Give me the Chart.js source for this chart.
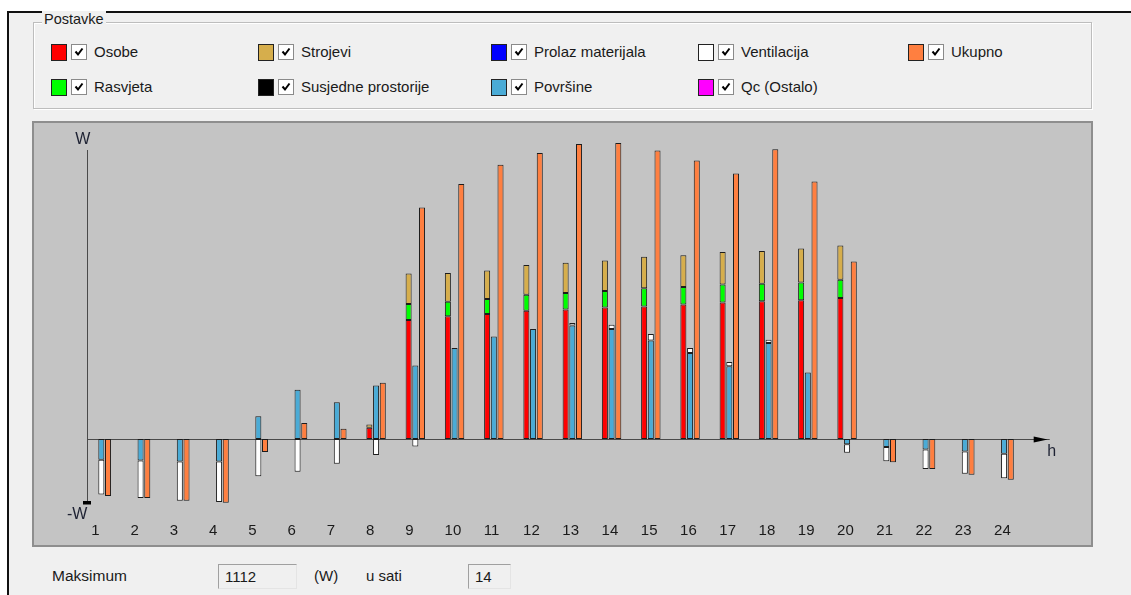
<!DOCTYPE html>
<html>
<head>
<meta charset="utf-8">
<script src="https://cdn.jsdelivr.net/npm/chart.js@4.4.1/dist/chart.umd.min.js"></script>
<style>
body { margin:0; width:1131px; height:595px; overflow:hidden; background:#fff; position:relative;
       font-family:"Liberation Sans", Arial, sans-serif; color:#1a1a1a; }
#okvir { position:absolute; left:7px; top:11px; width:1130px; height:590px; border-top:2px solid #111; border-left:2px solid #111; background:#f0f0f0; }
#grupa { position:absolute; left:33px; top:22px; width:1057px; height:85px; border:1px solid #bdbdbd; box-shadow:inset 1px 1px 0 #fff, 1px 1px 0 #fff; }
#naslov { position:absolute; left:42px; top:11px; padding:0 2px; background:#f0f0f0; font-size:14.5px; line-height:16px; }
.stavka { position:absolute; height:18px; font-size:15px; line-height:18px; white-space:nowrap; }
.boja { position:absolute; left:0; top:0; width:14px; height:15px; border:1px solid #222; }
.kvacica { position:absolute; left:20px; top:0; width:14px; height:14px; border:1px solid #8a8a8a; background:#fff; }
.kvacica svg { position:absolute; left:2px; top:2px; }
.tekst { position:absolute; left:43px; top:-1px; }
#ploca { position:absolute; left:32px; top:121px; width:1061px; height:426px; box-sizing:border-box; border:2px solid #8e8e8e; background:#c4c4c4; }
#graf { position:absolute; left:34px; top:123px; }
.natpis { position:absolute; font-size:15px; line-height:18px; }
.polje { position:absolute; top:564px; height:25px; box-sizing:border-box; border:1px solid #e4e4e4; border-top-color:#a0a0a0; border-left-color:#a0a0a0; font-size:15px; line-height:24px; padding-left:6px; }
</style>
</head>
<body>
<div id="okvir"></div>
<div id="grupa"></div>
<div id="naslov">Postavke</div>
<div id="legenda"></div>
<div id="ploca"></div>
<canvas id="graf" width="1057" height="422" style="width:1057px;height:422px"></canvas>
<div class="natpis" style="left:52px;top:567px;font-size:15.5px">Maksimum</div>
<div class="polje" style="left:218px;width:79px">1112</div>
<div class="natpis" style="left:314px;top:567px">(W)</div>
<div class="natpis" style="left:366px;top:567px">u sati</div>
<div class="polje" style="left:468px;width:43px">14</div>
<script>
const sati = ['1','2','3','4','5','6','7','8','9','10','11','12','13','14','15','16','17','18','19','20','21','22','23','24'];

const osobe       = [null,null,null,null,null,null,null,42,447,461,470,482,486,494,498,505,513,517,521,530,null,null,null,null];
const rasvjeta    = [null,null,null,null,null,null,null,null,60,55,56,60,62,62,68,66,67,66,67,68,null,null,null,null];
const strojevi    = [null,null,null,null,null,null,null,12,115,108,107,112,114,115,119,119,123,123,128,129,null,null,null,null];
const susjedne    = [null,null,null,null,null,null,null,null,null,null,null,null,null,null,null,null,null,null,null,null,null,null,null,null];
const prolaz      = [null,null,null,null,null,null,null,null,null,null,null,null,null,null,null,null,null,null,null,null,null,null,null,null];
const povrsine    = [-78,-81,-85,-85,85,185,138,201,276,342,385,413,426,413,370,323,273,361,250,-20,-30,-40,-47,-56];
const ventilacija = [-131,-141,-147,-152,-140,-123,-93,-60,-28,null,null,null,10,16,24,19,16,12,null,-32,-54,-73,-84,-92];
const qc          = [null,null,null,null,null,null,null,null,null,null,null,null,null,null,null,null,null,null,null,null,null,null,null,null];
const ukupno      = [-214,-222,-232,-240,-49,60,38,211,870,958,1030,1075,1108,1112,1084,1046,998,1089,967,667,-88,-113,-135,-153];

const nazivi = ['Osobe','Rasvjeta','Strojevi','Susjedne prostorije','Prolaz materijala','Površine','Ventilacija','Qc (Ostalo)','Ukupno'];
const boje = ['#ff0000','#00ff00','#d6ae4c','#000000','#0000ff','#4aabd6','#ffffff','#ff00ff','#ff7f40'];
const grupe = ['a','a','a','a','b','b','b','b','c'];
const serije = [osobe, rasvjeta, strojevi, susjedne, prolaz, povrsine, ventilacija, qc, ukupno];

// legenda s kvacicama, kao u prozoru
const stupci = [51, 258, 491, 698, 908];
const redovi = [44, 79];
const legenda = document.getElementById('legenda');
nazivi.forEach((n, i) => {
    const d = document.createElement('div');
    d.className = 'stavka';
    d.style.left = stupci[Math.floor(i / 2)] + 'px';
    d.style.top = redovi[i % 2] + 'px';
    d.innerHTML = '<span class="boja" style="background:' + boje[i] + '"></span>' +
        '<span class="kvacica"><svg width="10" height="10" viewBox="0 0 10 10"><path d="M1.5 4.5 L4 7.5 L8.5 1.5" stroke="#000" stroke-width="2" fill="none"/></svg></span>' +
        '<span class="tekst">' + n + '</span>';
    legenda.appendChild(d);
});

const osi = {
    id: 'osi',
    beforeDatasetsDraw(chart) {
        const { ctx, chartArea: a, scales: { y } } = chart;
        const y0 = Math.round(y.getPixelForValue(0)) + 0.5;
        const x0 = Math.round(a.left + 5) + 0.5;
        ctx.save();
        ctx.strokeStyle = '#4a4a4a';
        ctx.lineWidth = 1;
        ctx.beginPath();
        ctx.moveTo(x0, a.top + 20);
        ctx.lineTo(x0, a.bottom - 7);
        ctx.moveTo(x0, y0);
        ctx.lineTo(a.right + 26, y0);
        ctx.stroke();
        ctx.fillStyle = '#000';
        ctx.beginPath();
        ctx.moveTo(a.right + 10, y0 - 3);
        ctx.lineTo(a.right + 24, y0);
        ctx.lineTo(a.right + 10, y0 + 3);
        ctx.closePath();
        ctx.fill();
        ctx.fillRect(x0 - 4.5, a.bottom - 9, 8, 3.5);
        ctx.restore();
    },
    afterDraw(chart) {
        const { ctx, chartArea: a, scales: { y } } = chart;
        const y0 = y.getPixelForValue(0);
        ctx.save();
        ctx.fillStyle = '#1e2233';
        ctx.font = '16px "Liberation Sans", Arial';
        ctx.textAlign = 'center';
        ctx.textBaseline = 'middle';
        ctx.fillText('W', a.left + 1, a.top + 10);
        ctx.fillText('-W', a.left - 4.5, a.bottom + 5);
        ctx.fillText('h', a.right + 28, y0 + 13);
        ctx.restore();
    }
};

new Chart(document.getElementById('graf'), {
    type: 'bar',
    data: {
        labels: sati,
        datasets: serije.map((s, i) => ({
            label: nazivi[i],
            data: s,
            stack: grupe[i],
            backgroundColor: boje[i],
            borderColor: '#1c1c1c',
            borderWidth: 1,
            borderSkipped: false,
            inflateAmount: 0,
            categoryPercentage: 0.512,
            barPercentage: 0.9
        }))
    },
    options: {
        responsive: false,
        animation: false,
        layout: { padding: { left: 47.7, right: 67.3, top: 7, bottom: 5 } },
        plugins: { legend: { display: false }, tooltip: { enabled: false } },
        scales: {
            x: {
                stacked: true,
                grid: { display: false, drawTicks: false },
                border: { display: false },
                afterFit: (s) => { s.height = 30; },
                ticks: {
                    color: '#1a1a1a',
                    font: { family: '"Liberation Sans", Arial', size: 15 },
                    padding: 12,
                    align: 'start',
                    labelOffset: -10,
                    autoSkip: false,
                    maxRotation: 0
                }
            },
            y: { stacked: true, display: false, min: -267, max: 1161 }
        }
    },
    plugins: [osi]
});
</script>
</body>
</html>
